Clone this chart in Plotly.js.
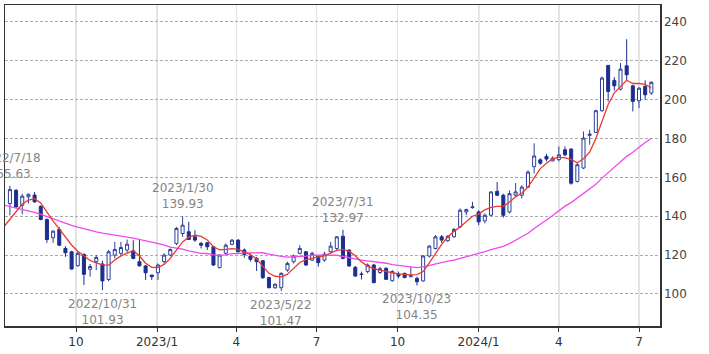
<!DOCTYPE html>
<html>
<head>
<meta charset="utf-8">
<script src="https://cdn.plot.ly/plotly-3.0.1.min.js"></script>
<style>html,body{margin:0;padding:0;background:#fff;}#chart{width:709px;height:354px;}</style>
</head>
<body>
<div id="chart"></div>
<script>
// Weekly candles, first week starting 2022-07-18 (105 weeks)
const firstWeek = '2022-07-18';
const maStartDate = '2022-07-11';

const openVals = [146.5,153.3,145.6,150.0,150.9,145.1,138.3,128.9,133.2,123.4,
121.7,114.5,120.3,112.7,116.6,115.4,107.4,120.0,120.9,122.6,
122.2,116.6,114.4,109.7,110.9,116.6,120.0,126.0,131.1,132.0,
129.4,126.0,126.3,124.3,113.5,120.9,125.5,127.7,122.6,119.5,
118.3,117.1,108.4,103.2,103.2,112.3,116.6,120.9,121.7,117.4,
119.5,117.4,121.7,123.4,129.7,122.6,113.7,110.3,111.5,114.9,
111.0,113.2,106.8,110.3,110.6,108.9,108.0,106.7,119.5,123.4,
129.4,127.4,129.4,134.5,142.2,144.4,142.2,137.6,140.5,152.8,
150.8,142.2,150.8,150.8,155.0,165.5,169.0,170.8,168.5,169.1,
174.2,174.5,157.9,164.8,181.6,183.1,194.3,217.6,209.9,205.4,
217.4,207.1,199.4,206.8,203.4];

const highVals = [155.63,154.0,151.6,151.6,152.5,145.6,138.8,132.8,134.5,124.6,
122.2,121.7,120.9,115.4,120.0,117.1,122.6,126.8,126.8,128.0,
127.7,128.0,114.9,109.8,115.7,120.9,123.4,134.5,139.93,137.1,
132.8,126.8,126.8,124.6,120.3,126.0,128.2,128.2,123.4,120.9,
119.1,117.4,108.9,105.5,111.1,116.6,120.3,125.1,122.0,121.7,
120.0,121.7,126.8,129.7,132.97,122.9,114.4,111.5,115.7,115.4,
114.0,113.7,112.3,111.5,110.9,114.0,108.9,120.0,125.1,130.3,
130.3,130.3,134.0,144.0,143.9,147.4,143.1,141.4,152.8,157.6,
151.6,153.3,157.1,155.9,163.6,177.5,169.8,172.1,170.8,175.9,
175.9,175.1,167.3,183.6,184.5,194.8,211.9,217.9,211.6,218.8,
231.1,207.6,206.4,209.9,209.5];

const lowVals = [140.5,144.0,141.0,146.5,146.9,137.9,126.3,126.3,124.6,119.1,
112.6,114.0,104.6,108.9,112.3,101.93,106.5,118.3,119.5,121.2,
117.8,114.0,107.2,107.2,107.2,115.7,119.5,125.1,129.4,127.7,
126.8,123.4,122.6,114.4,113.2,120.3,125.1,121.4,118.6,116.6,
111.8,107.7,102.9,102.6,101.47,111.4,115.7,120.3,114.4,116.9,
114.0,116.6,121.2,122.6,117.8,114.0,108.9,107.5,110.6,105.5,
110.3,107.2,106.3,108.0,108.0,108.5,104.35,106.3,118.8,122.9,
126.3,126.8,128.9,134.0,140.5,143.9,135.4,136.3,140.0,150.3,
139.3,141.4,149.9,149.1,154.6,162.0,166.4,168.2,168.2,168.2,
170.8,156.2,157.4,164.3,176.8,182.8,193.8,199.1,204.7,204.7,
209.9,193.9,195.6,199.9,202.5];

const closeVals = [153.7,144.8,150.3,151.3,147.4,138.3,128.0,132.3,125.1,121.2,
112.8,120.9,110.1,114.1,118.8,106.7,121.7,122.9,123.9,125.6,
118.3,114.5,110.9,108.9,114.9,120.0,122.9,133.7,135.4,128.0,
127.7,125.1,124.3,114.9,120.0,125.1,127.7,121.7,120.3,117.8,
116.6,108.4,103.2,105.0,110.6,115.7,119.5,123.4,114.9,120.9,
116.1,120.5,124.6,129.4,118.3,114.4,109.2,110.0,114.9,105.8,
113.0,107.5,111.5,109.2,108.5,109.4,106.3,119.5,124.6,129.4,
127.7,129.7,133.2,143.1,143.4,144.8,137.1,140.5,152.5,150.8,
140.5,151.6,152.5,155.0,162.7,171.0,167.3,169.4,169.9,171.6,
171.6,157.0,166.5,180.2,182.2,194.3,211.1,204.2,207.1,215.7,
212.8,199.1,205.9,202.5,208.9];

// Moving averages (first value is the week before the first candle)
const maShort = [134.5,138.5,142.3,146.3,148.3,149.0,146.8,141.8,137.5,133.5,129.2,
125.2,122.0,119.4,117.2,116.0,115.0,114.8,117.5,119.6,121.0,
122.3,119.5,115.8,113.7,113.6,115.2,118.3,122.6,126.8,129.2,
130.2,129.6,127.8,124.3,122.7,122.9,123.3,122.9,121.5,120.2,
118.0,114.0,110.6,109.1,108.8,110.2,113.2,116.2,117.7,118.6,
119.1,119.6,120.8,122.4,122.9,122.0,119.6,116.5,114.3,113.0,
112.2,111.7,110.9,110.3,110.0,109.8,109.9,111.5,116.0,120.5,
125.5,129.3,132.2,134.5,137.3,140.0,141.1,143.3,144.5,145.1,
145.1,147.3,150.0,151.8,155.0,159.8,164.5,167.3,169.5,170.4,
170.0,169.2,167.5,169.6,173.0,180.0,188.5,197.5,203.5,207.0,
210.0,208.3,208.3,207.8,206.0];

const maLong = [145.7,145.0,144.2,143.5,142.8,142.0,141.0,139.8,138.6,137.4,136.3,
135.3,134.4,133.5,132.7,132.0,131.3,130.7,130.2,129.7,129.2,
128.7,128.1,127.4,126.7,126.0,125.3,124.1,123.7,123.1,122.2,
121.4,120.9,120.8,120.1,119.9,120.1,120.7,120.7,121.1,121.2,
121.1,121.2,120.5,119.8,119.3,118.9,119.0,119.3,119.5,119.9,
120.0,120.0,120.0,119.9,119.2,118.7,118.0,117.4,117.0,116.7,
116.4,115.8,115.1,114.7,114.2,113.9,113.5,113.9,114.7,115.7,
116.3,116.9,117.4,118.2,119.3,120.2,121.0,121.8,122.8,123.6,
124.5,125.9,127.6,129.3,131.2,133.7,135.7,138.1,140.4,142.8,
145.2,147.0,149.3,151.7,153.9,156.4,159.6,162.5,165.3,168.1,
170.8,172.9,175.5,177.9,180.1];

const tickDates = ['2022-10-01','2023-01-01','2023-04-01','2023-07-01','2023-10-01','2024-01-01','2024-04-01','2024-07-01'];
const tickLabels = ['10','2023/1','4','7','10','2024/1','4','7'];
const yearLines = ['2023-01-01','2024-01-01'];
const yTicks = [100,120,140,160,180,200,220,240];

// Labelled extremes: candle index and which value
const markIdx = [0, 15, 28, 44, 54, 66];
const markKind = ['high','low','high','low','high','low'];

// Build weekly dates
const weeks = [];
const t0 = Date.parse(firstWeek + 'T00:00:00Z');
for (let i = 0; i < closeVals.length; i++) {
  weeks.push(new Date(t0 + i * 7 * 86400000).toISOString().slice(0, 10));
}
const maDates = [maStartDate].concat(weeks);

function fmtDate(d) {
  const p = d.split('-');
  return p[0] + '/' + parseInt(p[1], 10) + '/' + parseInt(p[2], 10);
}

const navy = '#1b2f8f';
const traces = [
  {
    type: 'candlestick',
    x: weeks, open: openVals, high: highVals, low: lowVals, close: closeVals,
    increasing: {line: {color: '#2b3f99', width: 1}, fillcolor: '#ffffff'},
    decreasing: {line: {color: navy, width: 1}, fillcolor: navy},
    whiskerwidth: 0,
    hoverinfo: 'skip',
    showlegend: false
  },
  {
    type: 'scatter', mode: 'lines', x: maDates, y: maLong,
    line: {color: '#ee4aee', width: 1.3}, hoverinfo: 'skip', showlegend: false
  },
  {
    type: 'scatter', mode: 'lines', x: maDates, y: maShort,
    line: {color: '#ea3a30', width: 1.3}, hoverinfo: 'skip', showlegend: false
  }
];

const annotations = markIdx.map(function (idx, k) {
  const isHigh = markKind[k] === 'high';
  const v = isHigh ? highVals[idx] : lowVals[idx];
  return {
    x: weeks[idx], y: v, xref: 'x', yref: 'y',
    text: fmtDate(weeks[idx]) + '<br>' + v.toFixed(2),
    showarrow: false,
    xanchor: 'center',
    yanchor: isHigh ? 'bottom' : 'top',
    yshift: isHigh ? 3 : -5,
    font: {family: 'DejaVu Sans', size: 12, color: '#858585'}
  };
});

const shapes = yearLines.map(function (d) {
  return {type: 'line', xref: 'x', yref: 'paper', x0: d, x1: d, y0: 0, y1: 1,
          line: {color: '#a8a8a8', width: 1.2}, layer: 'between'};
});

const layout = {
  width: 709, height: 354,
  margin: {l: 5, r: 49, t: 5, b: 28},
  paper_bgcolor: '#ffffff', plot_bgcolor: '#ffffff',
  font: {family: 'DejaVu Sans', size: 12, color: '#333333'},
  showlegend: false,
  xaxis: {
    type: 'date',
    range: ['2022-07-12 10:00', '2024-07-24 20:00'],
    tickvals: tickDates, ticktext: tickLabels,
    ticks: 'outside', ticklen: 4, tickcolor: '#333333',
    showgrid: true, gridcolor: '#e3e3e3', gridwidth: 1.5,
    showline: true, linecolor: '#333333', linewidth: 1.5, mirror: true,
    zeroline: false,
    rangeslider: {visible: false},
    tickfont: {family: 'DejaVu Sans', size: 12, color: '#333333'},
    fixedrange: true
  },
  yaxis: {
    side: 'right',
    range: [83.5, 248.7],
    tickvals: yTicks,
    ticks: '',
    showgrid: true, gridcolor: '#ababab', gridwidth: 1, griddash: '3px,2px',
    showline: true, linecolor: '#333333', linewidth: 1.5, mirror: true,
    zeroline: false,
    tickfont: {family: 'DejaVu Sans', size: 12, color: '#444444'},
    fixedrange: true
  },
  annotations: annotations,
  shapes: shapes
};

Plotly.newPlot('chart', traces, layout, {displayModeBar: false, staticPlot: true});
</script>
</body>
</html>
